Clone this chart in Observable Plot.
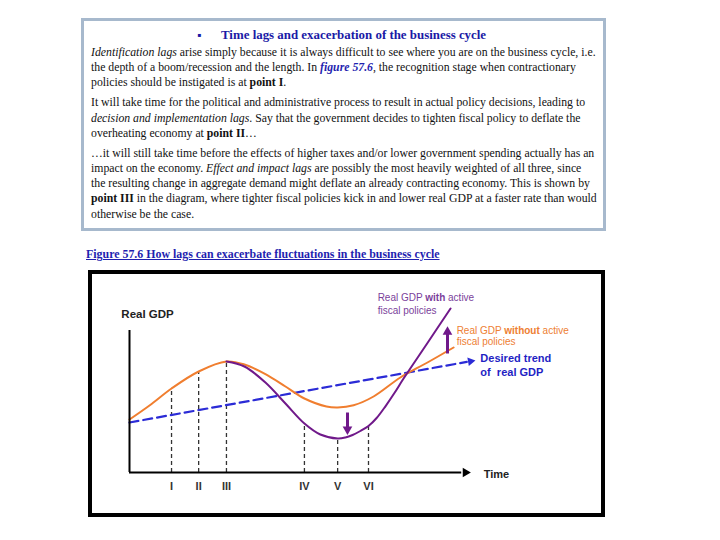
<!DOCTYPE html>
<html>
<head>
<meta charset="utf-8">
<script src="https://cdn.jsdelivr.net/npm/d3@7"></script>
<script src="https://cdn.jsdelivr.net/npm/@observablehq/plot@0.6"></script>
<style>
  html, body { margin: 0; padding: 0; background: #fff; }
  body { width: 720px; height: 540px; position: relative; overflow: hidden; }
  #box { position: absolute; left: 81px; top: 18px; width: 525px; height: 213px; box-sizing: border-box; border: 3px solid #a7b9cd; }
  .serif { font-family: "Liberation Serif", "Times New Roman", serif; }
  #bullet { position: absolute; left: 197px; top: 28px; font: bold 12px "Liberation Serif", serif; color: #1a1aa6; }
  #title { position: absolute; left: 221px; top: 28px; font: bold 12.9px "Liberation Serif", serif; color: #1a1aa6; white-space: nowrap; }
  #body { position: absolute; left: 91px; top: 45px; font-size: 11.75px; line-height: 15.2px; color: #111; white-space: nowrap; }
  #body p { margin: 0 0 4.8px 0; }
  .fig { color: #1f1fb0; font-weight: bold; font-style: italic; }
  #caption { position: absolute; left: 86px; top: 247px; font: bold 11.9px "Liberation Serif", serif; color: #1f1fb0; text-decoration: underline; white-space: nowrap; }
  #diagram { position: absolute; left: 88px; top: 270px; width: 517px; height: 247px; box-sizing: border-box; border: 4px solid #000; }
  #diagram svg { display: block; }
</style>
</head>
<body>
<div id="box"></div>
<div id="bullet">▪</div>
<div id="title">Time lags and exacerbation of the business cycle</div>
<div id="body" class="serif">
  <p><i>Identification lags</i> arise simply because it is always difficult to see where you are on the business cycle, i.e.<br>the depth of a boom/recession and the length. In <span class="fig">figure 57.6</span>, the recognition stage when contractionary<br>policies should be instigated is at <b>point I</b>.</p>
  <p>It will take time for the political and administrative process to result in actual policy decisions, leading to<br><i>decision and implementation lags</i>. Say that the government decides to tighten fiscal policy to deflate the<br>overheating economy at <b>point II</b>…</p>
  <p>…it will still take time before the effects of higher taxes and/or lower government spending actually has an<br>impact on the economy. <i>Effect and impact lags</i> are possibly the most heavily weighted of all three, since<br>the resulting change in aggregate demand might deflate an already contracting economy. This is shown by<br><b>point III</b> in the diagram, where tighter fiscal policies kick in and lower real GDP at a faster rate than would<br>otherwise be the case.</p>
</div>
<div id="caption">Figure 57.6 How lags can exacerbate fluctuations in the business cycle</div>
<div id="diagram"></div>
<script>
// Real GDP without active fiscal policies (orange)
const orangeT   = [0, 5.9, 12.4, 20.4, 28.6, 33.9, 40.1, 46, 51.6, 58.1, 61.4, 66.1, 72, 79.9, 87.9, 95.6];
const orangeGDP = [26.5, 33.5, 42, 50.5, 55.5, 54, 49.2, 43, 37, 33, 32.5, 33.6, 38, 47.5, 55, 62.5];
// Real GDP with active fiscal policies (purple), diverges after the peak
const purpleT   = [28.6, 33.9, 40.1, 46, 51.6, 56.3, 61.4, 63.7, 65.8, 68.1, 70.5, 72.9, 75.5, 78.2, 80.8, 87.9, 94.7];
const purpleGDP = [55.5, 53, 45, 34.5, 24.5, 19, 17, 17.5, 18.75, 20.75, 23.25, 27.25, 33.1, 39.85, 46.85, 64.75, 82];
// Desired trend (blue dashed)
const trendT   = [0, 99.5];
const trendGDP = [25, 55.3];
const trendHead = {t: 100.6, gdp: 55.6};
// Lags
const lagLabels = ["I", "II", "III", "IV", "V", "VI"];
const lagT      = [12.4, 20.4, 28.6, 51.6, 61.4, 70.5];
const lagTop    = [42, 50.5, 55.5, 24.5, 17, 23.25];
// Shift arrows
const downArrow = {t: 64.3, from: 30, to: 22.5, head: 21.6};
const upArrow   = {t: 93.8, from: 59.5, to: 69.5, head: 70.3};
// Axes
const xAxisEnd = 98, xAxisHead = 99.1, yAxisTop = 71;
// Annotation labels
const labels = [
  {t: -2.4, gdp: 79,   text: "Real GDP", color: "#222", size: 11.5, bold: true},
  {t: 104.5, gdp: -1,  text: "Time", color: "#222", size: 11, bold: true},
  {t: 73.2, gdp: 87.5, text: "Real GDP with active", color: "#7b3f9b", size: 10, bold: false},
  {t: 73.2, gdp: 81,   text: "fiscal policies", color: "#7b3f9b", size: 10, bold: false},
  {t: 96.5, gdp: 71,   text: "Real GDP without active", color: "#ee8033", size: 10, bold: false},
  {t: 96.5, gdp: 65.5, text: "fiscal policies", color: "#ee8033", size: 10, bold: false},
  {t: 103.5, gdp: 57,  text: "Desired trend", color: "#1f1fc4", size: 11, bold: true},
  {t: 103.5, gdp: 50,  text: "of\u00a0 real GDP", color: "#1f1fc4", size: 11, bold: true}
];

const ORANGE = "#f07e2f", PURPLE = "#70198a", BLUE = "#2b2bd6";
const orange = orangeT.map((t, i) => ({t, gdp: orangeGDP[i]}));
const purple = purpleT.map((t, i) => ({t, gdp: purpleGDP[i]}));
const trend = trendT.map((t, i) => ({t, gdp: trendGDP[i]}));
const lags = lagLabels.map((label, i) => ({label, t: lagT[i], top: lagTop[i]}));

const chart = Plot.plot({
  width: 509, height: 239,
  marginTop: 0, marginRight: 0, marginBottom: 0, marginLeft: 0,
  style: {fontFamily: "'Liberation Sans', Arial, sans-serif", background: "transparent", overflow: "visible"},
  x: {domain: [0, 100], range: [37, 376], axis: null},
  y: {domain: [0, 100], range: [198, -2], axis: null},
  marks: [
    Plot.ruleX(lags, {x: "t", y1: 0, y2: "top", stroke: "#333", strokeWidth: 1.3, strokeDasharray: "4,3"}),
    Plot.line(trend, {x: "t", y: "gdp", stroke: BLUE, strokeWidth: 2.2, strokeDasharray: "9,5"}),
    Plot.dot([trendHead], {x: "t", y: "gdp", symbol: "triangle", r: 3.2, fill: BLUE, stroke: null, rotate: 80}),
    Plot.line(orange, {x: "t", y: "gdp", stroke: ORANGE, strokeWidth: 2, curve: "catmull-rom"}),
    Plot.line(purple, {x: "t", y: "gdp", stroke: PURPLE, strokeWidth: 2, curve: "catmull-rom"}),
    Plot.ruleY([0], {x1: 0, x2: xAxisEnd, stroke: "#000", strokeWidth: 2}),
    Plot.dot([{t: xAxisHead, gdp: 0}], {x: "t", y: "gdp", symbol: "triangle", r: 3.5, fill: "#000", stroke: null, rotate: 90}),
    Plot.ruleX([0], {y1: 0, y2: yAxisTop, stroke: "#000", strokeWidth: 2}),
    Plot.link([downArrow, upArrow], {x1: "t", x2: "t", y1: "from", y2: "to", stroke: PURPLE, strokeWidth: 3}),
    Plot.dot([downArrow], {x: "t", y: "head", symbol: "triangle", r: 3.6, fill: PURPLE, stroke: null, rotate: 180}),
    Plot.dot([upArrow], {x: "t", y: "head", symbol: "triangle", r: 3.6, fill: PURPLE, stroke: null}),
    Plot.text(lags, {x: "t", y: -7, text: "label", fontSize: 11, fontWeight: "bold", fill: "#333"}),
    Plot.text(labels.filter(d => d.bold), {x: "t", y: "gdp", text: "text", fill: "color", fontSize: "size", fontWeight: "bold", textAnchor: "start"}),
    Plot.text(labels.filter(d => !d.bold), {x: "t", y: "gdp", text: "text", fill: "color", fontSize: "size", textAnchor: "start", className: "ann"})
  ]
});

// Mixed-weight words in the two curve labels
d3.select(chart).selectAll("g.ann text").each(function() {
  const m = this.textContent.match(/^(Real GDP )(with|without)( active)$/);
  if (m) {
    const el = d3.select(this);
    el.text(null);
    el.append("tspan").text(m[1]);
    el.append("tspan").attr("font-weight", "bold").text(m[2]);
    el.append("tspan").text(m[3]);
  }
});
document.getElementById("diagram").appendChild(chart);
</script>
</body>
</html>
